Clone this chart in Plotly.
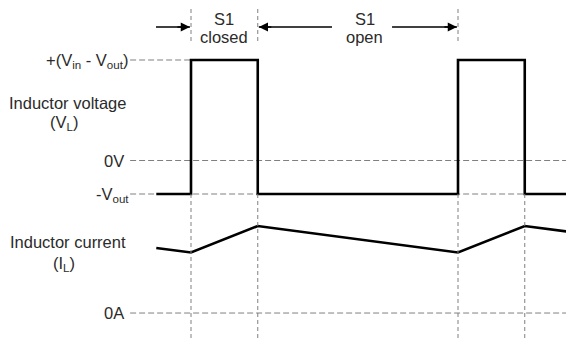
import plotly.graph_objects as go

# switching instants (one period T = 1, duty 0.25)
switch_on = [0.0, 1.0]
switch_off = [0.25, 1.25]
t_start = -0.13
t_end = 1.47

# voltage levels (Vout = 1, Vin = 4)
v_high = 3.0   # +(Vin - Vout)
v_zero = 0.0
v_low = -1.0   # -Vout

# inductor current at start, switch edges, end
i_times = [t_start, 0.0, 0.25, 1.0, 1.25, t_end]
i_values = [0.86, 0.80, 1.15, 0.80, 1.15, 1.05]

# build square wave from edges
v_times = [t_start]
v_values = [v_low]
for on, off in zip(switch_on, switch_off):
    v_times += [on, on, off, off]
    v_values += [v_low, v_high, v_high, v_low]
v_times.append(t_end)
v_values.append(v_low)

W, H = 574, 339
OFF = 8  # page body margin
FONT = "Liberation Sans, Arial, sans-serif"
TXT = "#2b2b2b"
GRID = "#808080"
x_left = -0.228


def px(p):
    return (p - OFF) / W


def py(p):
    return 1 - (p - OFF) / H


fig = go.Figure()

# reference dashed lines
fig.add_trace(go.Scatter(x=[x_left, 0.0], y=[v_high, v_high], mode="lines",
                         line=dict(color=GRID, width=1, dash="6px,3px"), hoverinfo="skip"))
for lvl in [v_zero, v_low]:
    fig.add_trace(go.Scatter(x=[x_left, t_end], y=[lvl, lvl], mode="lines",
                             line=dict(color=GRID, width=1, dash="6px,3px"), hoverinfo="skip"))
fig.add_trace(go.Scatter(x=[x_left, t_end], y=[0, 0], mode="lines", yaxis="y2",
                         line=dict(color=GRID, width=1, dash="6px,3px"), hoverinfo="skip"))

# vertical dashed lines below waveform
for t in switch_on + switch_off:
    fig.add_shape(type="line", x0=t, x1=t, xref="x", y0=v_low, y1=-7, yref="y",
                  line=dict(color=GRID, width=1, dash="4px,3px"))
# vertical dashed markers at the top
for t in [switch_on[0], switch_off[0], switch_on[1]]:
    fig.add_shape(type="line", x0=t, x1=t, xref="x", y0=py(9), y1=py(43),
                  yref="paper", line=dict(color=GRID, width=1, dash="4px,3px"))

# waveforms
fig.add_trace(go.Scatter(x=v_times, y=v_values, mode="lines",
                         line=dict(color="black", width=2.6), hoverinfo="skip"))
fig.add_trace(go.Scatter(x=i_times, y=i_values, mode="lines", yaxis="y2",
                         line=dict(color="black", width=2.6), hoverinfo="skip"))

# arrows: shaft as shape, head as annotation
ya = py(27)
arrows = [(-0.131, -0.004), (0.528, 0.254), (0.753, 0.996)]
for tail, head in arrows:
    fig.add_shape(type="line", x0=tail, x1=head, xref="x", y0=ya, y1=ya, yref="paper",
                  line=dict(color="black", width=1.6))
    fig.add_annotation(x=head, y=ya, xref="x", yref="paper", axref="pixel", ayref="pixel",
                       ax=-14 if head > tail else 14, ay=0, showarrow=True, text="",
                       arrowhead=2, arrowsize=1.15, arrowwidth=1.6, arrowcolor="black")


# texts
def txt(x, y, s, xanchor="center", xref="paper"):
    fig.add_annotation(x=x, y=y, xref=xref, yref="paper", text=s, showarrow=False,
                       xanchor=xanchor, yanchor="middle",
                       font=dict(family=FONT, size=16.5, color=TXT))


txt(0.125, py(18.5), "S1", xref="x")
txt(0.125, py(36.5), "closed", xref="x")
txt(0.65, py(18.5), "S1", xref="x")
txt(0.65, py(36.5), "open", xref="x")
txt(px(67.5), py(103), "Inductor voltage")
txt(px(64), py(123), "(V<sub>L</sub>)")
txt(px(67.5), py(242), "Inductor current")
txt(px(64), py(264), "(I<sub>L</sub>)")
txt(px(130), py(61), "+(V<sub>in</sub> - V<sub>out</sub>)", xanchor="right")
txt(px(126), py(161), "0V", xanchor="right")
txt(px(131), py(195), "-V<sub>out</sub>", xanchor="right")
txt(px(126), py(313), "0A", xanchor="right")

fig.update_layout(
    width=W, height=H,
    margin=dict(l=0, r=0, t=0, b=0),
    plot_bgcolor="white", paper_bgcolor="white",
    showlegend=False,
    xaxis=dict(range=[-(191 - OFF) / 267, (W + OFF - 191) / 267], visible=False),
    yaxis=dict(range=[-5.567, 4.552], visible=False),
    yaxis2=dict(range=[-0.449, 4.032], visible=False, overlaying="y"),
)

fig.write_html("out.html")
